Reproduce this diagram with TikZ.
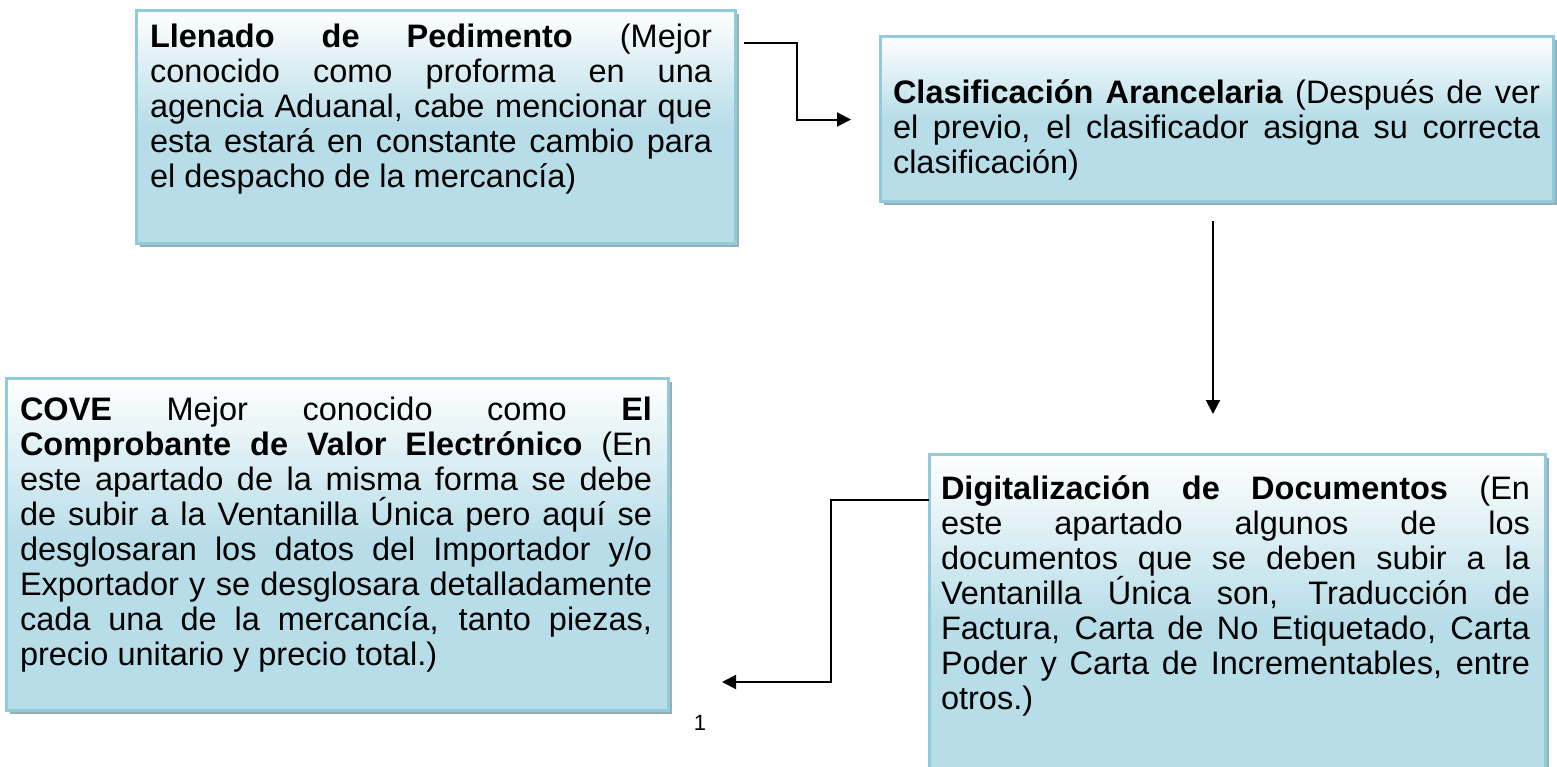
\documentclass[tikz,border=0pt]{standalone}
\usepackage{fontspec}
\setmainfont{Liberation Sans}
\usetikzlibrary{arrows.meta,calc,shadows}
\definecolor{boxblue}{HTML}{B7DDE8}
\definecolor{boxline}{HTML}{8FCBDA}
\definecolor{shadowc}{HTML}{98AEB5}
\pgfdeclareverticalshading{boxgrad}{100bp}{color(0bp)=(boxblue); color(50bp)=(boxblue); color(75bp)=(white); color(100bp)=(white)}
\newcommand{\jl}[2]{\makebox[#1][s]{\spaceskip=0pt\xspaceskip=0pt #2}\\}
\tikzset{
  boxst/.style={draw=boxline, line width=3pt, inner sep=0pt, outer sep=0pt, anchor=north west,
    shade, shading=boxgrad,
    general shadow={fill=shadowc, shadow xshift=4pt, shadow yshift=-4pt}},
  txt/.style={anchor=north west, inner sep=0pt, outer sep=0pt, align=justify,
    font=\fontsize{32.5}{35}\selectfont},
  arr/.style={line width=2pt, -{Triangle[length=14pt,width=14pt]}}
}
\begin{document}
\begin{tikzpicture}[x=1pt,y=-1pt]
\useasboundingbox (0,0) rectangle (1557,766);
% boxes
\node[boxst, minimum width=599pt, minimum height=233pt] (b1) at (136,10) {};
\node[boxst, minimum width=673pt, minimum height=165pt] (b2) at (880,36) {};
\node[boxst, minimum width=662pt, minimum height=332pt] (b3) at (6,378) {};
\node[boxst, minimum width=616pt, minimum height=340pt] (b4) at (929,454) {};
% texts
\node[txt, text width=562pt] (t1) at (150,23) {%
\jl{562pt}{\strut\textbf{Llenado de Pedimento} (Mejor}%
\jl{562pt}{conocido como proforma en una}%
\jl{562pt}{agencia Aduanal, cabe mencionar que}%
\jl{562pt}{esta estará en constante cambio para}%
el despacho de la mercancía)};
\node[txt, text width=647pt] (t2) at (893,78.5) {%
\jl{647pt}{\strut\textbf{Clasificación Arancelaria} (Después de ver}%
\jl{647pt}{el previo, el clasificador asigna su correcta}%
clasificación)};
\node[txt, text width=632pt] (t3) at (20,396) {%
\jl{632pt}{\strut\textbf{COVE} Mejor conocido como \textbf{El}}%
\jl{632pt}{\textbf{Comprobante de Valor Electrónico} (En}%
\jl{632pt}{este apartado de la misma forma se debe}%
\jl{632pt}{de subir a la Ventanilla Única pero aquí se}%
\jl{632pt}{desglosaran los datos del Importador y/o}%
\jl{632pt}{Exportador y se desglosara detalladamente}%
\jl{632pt}{cada una de la mercancía, tanto piezas,}%
precio unitario y precio total.)};
\node[txt, text width=589pt] (t4) at (941,475) {%
\jl{589pt}{\strut\textbf{Digitalización de Documentos} (En}%
\jl{589pt}{este apartado algunos de los}%
\jl{589pt}{documentos que se deben subir a la}%
\jl{589pt}{Ventanilla Única son, Traducción de}%
\jl{589pt}{Factura, Carta de No Etiquetado, Carta}%
\jl{589pt}{Poder y Carta de Incrementables, entre}%
otros.)};
\node[anchor=base, inner sep=0pt, font=\fontsize{22}{25}\selectfont] (pg) at (700,730) {1};
% connectors
\coordinate (a1s) at ($(b1.north east)+(9,33)$);
\coordinate (a1m) at ($(b1.north east)+(62,33)$);
\coordinate (a1e) at ($(b2.west)+(-29,1)$);
\draw[arr] (a1s) -- (a1m) |- (a1e);
\coordinate (a2s) at ($(b2.south)+(-3.5,20)$);
\coordinate (a2e) at ($(b4.north)+(-24,-40)$);
\draw[arr] (a2s) -- (a2s |- a2e);
\coordinate (a3s) at ($(b4.north west)+(0,46)$);
\coordinate (a3m) at ($(b4.north west)+(-98,46)$);
\coordinate (a3e) at ($(b3.east)+(54,138)$);
\draw[arr] (a3s) -- (a3m) |- (a3e);
\end{tikzpicture}
\end{document}
